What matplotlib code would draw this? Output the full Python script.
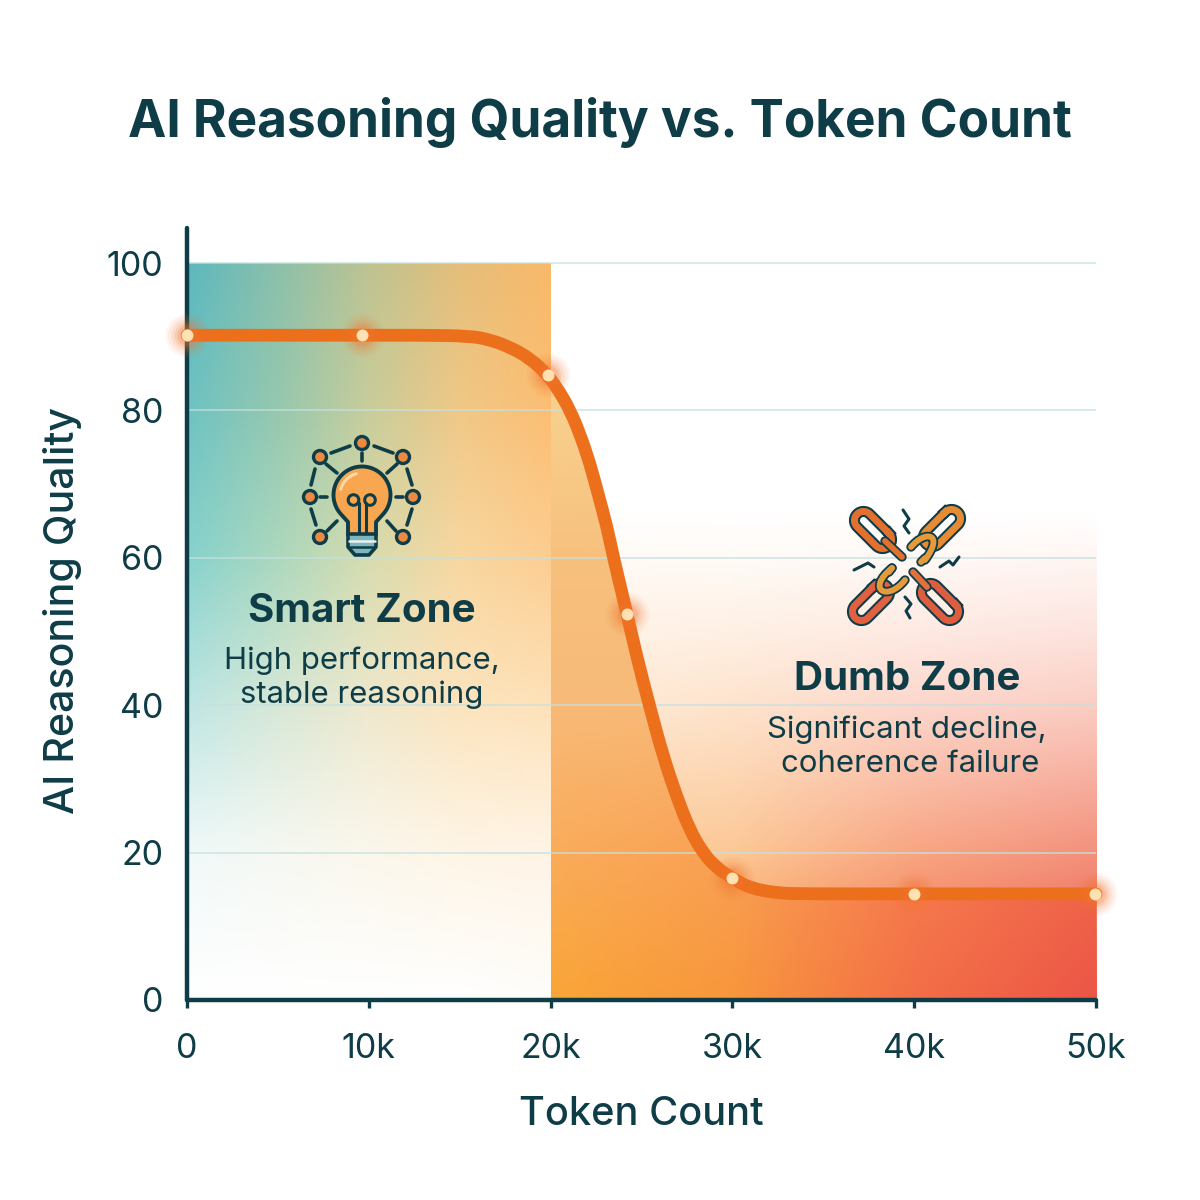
import numpy as np
import matplotlib
matplotlib.use("Agg")
import matplotlib.pyplot as plt
from matplotlib.patches import Circle, Polygon, PathPatch
from matplotlib.path import Path

plt.rcParams["font.family"] = ["Inter", "Noto Sans", "DejaVu Sans"]

# curve read as (tokens, quality)
curve_tokens = [0, 5000, 10000, 13000, 15550, 16650, 17750, 18850, 19850, 20500, 21050, 21600, 22150, 22600,
                23100, 23450, 24200, 24750, 25450, 26200, 26950, 27650, 28400, 29150, 29950, 30950, 32450,
                34000, 40000, 50000]
curve_quality = [90.2, 90.2, 90.2, 90.2, 90.1, 89.6, 88.6, 87.1, 84.8, 82.5, 80.1, 76.9, 72.9, 68.8,
                 64.2, 60.1, 52.4, 46.5, 39.8, 33.0, 27.5, 23.1, 19.9, 17.9, 16.6, 15.2, 14.5,
                 14.4, 14.4, 14.4]
point_tokens = [0, 9650, 19850, 24200, 30000, 40000, 49950]
point_quality = [90.2, 90.2, 84.8, 52.4, 16.6, 14.4, 14.4]

x_ticks = [0, 10000, 20000, 30000, 40000, 50000]
x_tick_labels = ["0", "10k", "20k", "30k", "40k", "50k"]
y_ticks = [0, 20, 40, 60, 80, 100]
zone_split = 20000

DARK = "#0f3d47"
ORANGE = "#ec6f1c"


def blend(rows_y, cols_x, colours, ny=300, nx=300):
    # upsample a coarse colour table (rows listed top to bottom) for imshow
    colours = np.array(colours, dtype=float)[::-1] / 255
    rows_y = np.array(rows_y, dtype=float)[::-1]
    ys = np.linspace(rows_y[-1], rows_y[0], ny)
    xs = np.linspace(cols_x[0], cols_x[-1], nx)
    out = np.zeros((ny, nx, 3))
    for c in range(3):
        tmp = np.array([np.interp(xs, cols_x, row) for row in colours[:, :, c]])
        out[:, :, c] = np.array([np.interp(ys, rows_y, tmp[:, i]) for i in range(nx)]).T
    return out


def smooth_path(xs, ys):
    # quadratic segments between midpoints so the line has no visible corners
    verts = [(xs[0], ys[0])]
    codes = [Path.MOVETO]
    for i in range(1, len(xs) - 1):
        verts += [(xs[i], ys[i]), ((xs[i] + xs[i + 1]) / 2, (ys[i] + ys[i + 1]) / 2)]
        codes += [Path.CURVE3, Path.CURVE3]
    verts.append((xs[-1], ys[-1]))
    codes.append(Path.LINETO)
    return Path(verts, codes)


smart_colours = [
    [(93, 184, 190), (140, 192, 170), (190, 195, 145), (228, 190, 122), (250, 185, 105)],
    [(110, 195, 195), (150, 200, 175), (200, 205, 155), (240, 200, 135), (252, 190, 115)],
    [(135, 210, 205), (172, 216, 190), (215, 220, 175), (248, 215, 160), (253, 205, 145)],
    [(190, 230, 228), (215, 232, 215), (238, 232, 205), (252, 228, 190), (254, 226, 185)],
    [(240, 249, 249), (246, 248, 242), (251, 247, 236), (254, 245, 230), (255, 244, 230)],
    [(255, 255, 255), (255, 255, 255), (255, 255, 255), (255, 255, 255), (255, 253, 250)],
]
# wash above the curve in the right hand zone
dumb_rows = [100, 66, 60, 50, 40, 20, 0]
dumb_colours = [
    [(255, 255, 255)] * 4,
    [(255, 255, 255)] * 4,
    [(255, 250, 244), (255, 251, 247), (255, 249, 246), (255, 246, 243)],
    [(255, 243, 232), (255, 240, 228), (254, 234, 226), (253, 228, 222)],
    [(254, 235, 215), (254, 228, 205), (252, 215, 205), (251, 205, 195)],
    [(252, 205, 155), (252, 200, 150), (248, 165, 130), (243, 145, 125)],
    [(250, 165, 55), (248, 150, 60), (243, 110, 70), (236, 85, 70)],
]
# deeper tint under the curve
under_colours = [
    [(250, 205, 140)] * 4,
    [(247, 208, 140)] * 4,
    [(247, 192, 125)] * 4,
    [(248, 186, 120)] * 4,
    [(250, 172, 90), (249, 160, 85), (246, 125, 80), (240, 105, 75)],
    [(250, 165, 55), (248, 150, 60), (243, 110, 70), (236, 85, 70)],
]

fig = plt.figure(figsize=(12, 12), dpi=100, facecolor="white")
ax = fig.add_axes([187 / 1200, 200 / 1200, 909 / 1200, 772 / 1200])

ax.imshow(blend([100, 80, 60, 40, 20, 0], [0, 5000, 10000, 15000, 20000], smart_colours),
          extent=(0, zone_split, 0, 100), origin="upper", aspect="auto", zorder=1)
ax.imshow(blend(dumb_rows, [20000, 30000, 40000, 50000], dumb_colours),
          extent=(zone_split, 50000, 0, 100), origin="upper", aspect="auto", zorder=1)
under = ax.imshow(blend([100, 80, 60, 40, 20, 0], [20000, 30000, 40000, 50000], under_colours),
                  extent=(zone_split, 50000, 0, 100), origin="upper", aspect="auto", zorder=1.5)
ax.set_xlim(0, 50000)
ax.set_ylim(0, 772 / 7.37)
under.set_clip_path(Polygon(list(zip(curve_tokens, curve_quality)) + [(50000, 0), (0, 0)],
                            closed=True, transform=ax.transData))

for v in y_ticks[1:]:
    ax.axhline(v, color="#c5e0e0", lw=1.2, alpha=0.8, zorder=2)

for s in ["top", "right"]:
    ax.spines[s].set_visible(False)
for s in ["left", "bottom"]:
    ax.spines[s].set_linewidth(3.2)
    ax.spines[s].set_color(DARK)
    ax.spines[s].set_capstyle("round")
    ax.spines[s].set_zorder(3)

ax.set_xticks(x_ticks, x_tick_labels)
ax.set_yticks(y_ticks)
ax.tick_params(axis="x", length=6, width=2.4, color=DARK, labelcolor=DARK, labelsize=24.5, pad=18)
ax.tick_params(axis="y", length=0, labelcolor=DARK, labelsize=24.5, pad=17)
ax.set_xlabel("Token Count", fontsize=28.6, fontweight="medium", color=DARK, labelpad=22)
ax.set_ylabel("AI Reasoning Quality", fontsize=29.6, fontweight="medium", color=DARK, labelpad=18)
ax.yaxis.label.set_y(0.505)

# the curve and its glowing points
ax.add_patch(PathPatch(smooth_path(curve_tokens, curve_quality), fc="none", ec=ORANGE, lw=9.2, capstyle="round",
                       joinstyle="round", zorder=5, clip_on=False))
for size, alpha in [(1000, 0.06), (760, 0.08), (540, 0.11), (360, 0.15), (220, 0.22)]:
    ax.scatter(point_tokens, point_quality, s=size, color="#f4762e", alpha=alpha, lw=0, zorder=6, clip_on=False)
ax.scatter(point_tokens, point_quality, s=74, color="#ffe1b4", lw=0, zorder=7, clip_on=False)

# overlay in pixel coordinates for the text blocks and icons
ov = fig.add_axes([0, 0, 1, 1], facecolor="none")
ov.set_xlim(0, 1200)
ov.set_ylim(1200, 0)
ov.axis("off")

ov.text(600, 123, "AI Reasoning Quality vs. Token Count", fontsize=37, fontweight="bold", color=DARK,
        ha="center", va="center")
ov.text(362, 611, "Smart Zone", fontsize=29, fontweight="bold", color=DARK, ha="center", va="center")
ov.text(362, 661, "High performance,", fontsize=22.4, color=DARK, ha="center", va="center")
ov.text(362, 695, "stable reasoning", fontsize=22.4, color=DARK, ha="center", va="center")
ov.text(907, 679, "Dumb Zone", fontsize=29, fontweight="bold", color=DARK, ha="center", va="center")
ov.text(907, 730, "Significant decline,", fontsize=22.4, color=DARK, ha="center", va="center")
ov.text(910, 764, "coherence failure", fontsize=22.4, color=DARK, ha="center", va="center")


def seg(x0, y0, x1, y1, lw=2.6, color=DARK, z=10):
    ov.plot([x0, x1], [y0, y1], color=color, lw=lw, solid_capstyle="round", zorder=z)


# light bulb with its ring of nodes
nodes = [(362, 443), (320, 457), (403, 457), (310, 497), (413, 497), (320, 537), (403, 537)]
links = [(331, 453, 350, 446), (374, 446, 393, 453), (315, 469, 311, 485), (407, 469, 412, 485),
         (311, 509, 316, 525), (412, 509, 407, 525), (362, 453, 362, 461), (326, 464, 337, 473),
         (397, 464, 387, 473), (320, 497, 327, 497), (396, 497, 403, 497), (327, 531, 337, 521),
         (396, 531, 387, 521)]
for (a, b, c, d) in links:
    seg(a, b, c, d)
for (nx, ny) in nodes:
    ov.add_patch(Circle((nx, ny), 6.5, fc="#ec8a42", ec=DARK, lw=2.4, zorder=11))

bulb = [(362 + 28.5 * np.cos(a), 495 - 28.5 * np.sin(a)) for a in np.linspace(np.radians(-42), np.radians(222), 60)]
bulb += [(348, 522), (348, 535), (376, 535), (376, 522)]
ov.add_patch(Polygon(bulb, closed=True, fc="#f8a64f", ec=DARK, lw=2.8, joinstyle="round", zorder=11))
hl = np.linspace(np.radians(105), np.radians(165), 20)
ov.plot(362 + 22 * np.cos(hl), 495 - 22 * np.sin(hl), color="#ffd9a8", lw=2.2, solid_capstyle="round", zorder=12)
# filament
for cx in [353.5, 370]:
    ov.add_patch(Circle((cx, 500), 5.3, fc="none", ec=DARK, lw=2.2, zorder=12))
seg(358.5, 503, 358.5, 534, lw=2.2, z=12)
seg(365.5, 503, 365.5, 534, lw=2.2, z=12)
# screw base
ov.add_patch(Polygon([(348, 534), (376, 534), (376, 547), (369, 555), (355, 555), (348, 547)], closed=True,
                     fc="#7fb6bd", ec=DARK, lw=2.6, joinstyle="round", zorder=12))
seg(349, 541, 375, 541, lw=1.8, color="#e8f1ef", z=13)
seg(350, 547, 374, 547, lw=1.8, color=DARK, z=13)


def capsule(cx, cy, length, width, angle, colour):
    # rounded chain link drawn as a dark stroke with a coloured stroke on top
    half = length / 2 - width / 2
    r = width / 2
    a1 = np.linspace(-np.pi / 2, np.pi / 2, 20)
    a2 = np.linspace(np.pi / 2, 3 * np.pi / 2, 20)
    px = np.r_[half + r * np.cos(a1), -half + r * np.cos(a2), half + r * np.cos(a1[0])]
    py = np.r_[r * np.sin(a1), r * np.sin(a2), r * np.sin(a1[0])]
    th = np.radians(angle)
    X = cx + px * np.cos(th) - py * np.sin(th)
    Y = cy + px * np.sin(th) + py * np.cos(th)
    ov.plot(X, Y, color=DARK, lw=8, zorder=10, solid_joinstyle="round")
    ov.plot(X, Y, color=colour, lw=5, zorder=11, solid_joinstyle="round")


def tail(x0, y0, x1, y1, colour):
    ov.plot([x0, x1], [y0, y1], color=DARK, lw=6.8, solid_capstyle="round", zorder=12)
    ov.plot([x0, x1], [y0, y1], color=colour, lw=4.2, solid_capstyle="round", zorder=13)


def hook(xs, ys, colour):
    # the half link still hanging off a broken end
    p = Path(list(zip(xs, ys)), [Path.MOVETO, Path.CURVE4, Path.CURVE4, Path.CURVE4])
    ov.add_patch(PathPatch(p, fc="none", ec=DARK, lw=6.8, capstyle="round", zorder=12))
    ov.add_patch(PathPatch(p, fc="none", ec=colour, lw=4.2, capstyle="round", zorder=13))


capsule(873, 530, 45, 18, 45, "#e2702f")
capsule(942, 528, 45, 18, -45, "#e58a35")
capsule(871, 602, 45, 18, -45, "#e2603f")
capsule(940, 602, 45, 18, 45, "#df5c3f")
tail(885, 541, 902, 557, "#e2702f")
tail(913, 572, 927, 587, "#e2703a")
hook([911, 925, 945, 925], [547, 530, 533, 560], "#e59a3c")
tail(925, 558, 921, 562, "#e59a3c")
hook([905, 888, 865, 892], [580, 602, 590, 568], "#e59a3c")
tail(892, 568, 889, 572, "#e59a3c")

# little cracks around the break
for pts in [[(903, 510), (909, 519), (904, 526), (909, 533)],
            [(905, 597), (911, 604), (906, 611), (910, 618)],
            [(854, 570), (868, 563), (874, 567)],
            [(940, 567), (949, 561), (953, 565), (959, 557)]]:
    xs, ys = zip(*pts)
    ov.plot(xs, ys, color=DARK, lw=2.2, solid_capstyle="round", solid_joinstyle="round", zorder=10)

fig.savefig("out.png", dpi=100)
